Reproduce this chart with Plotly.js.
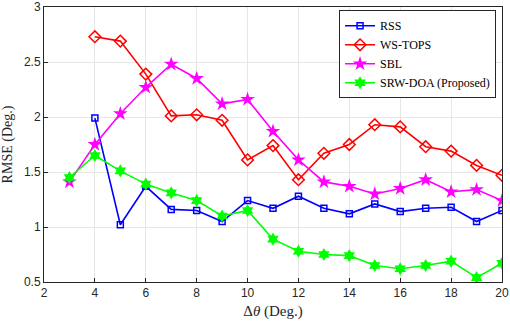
<!DOCTYPE html>
<html><head><meta charset="utf-8">
<script src="https://cdn.plot.ly/plotly-3.0.1.min.js"></script>
<style>html,body{margin:0;padding:0;background:#fff}#c{width:510px;height:326px}</style>
</head><body><div id="c"></div>
<script>
const xRSS = [4,5,6,7,8,9,10,11,12,13,14,15,16,17,18,19,20];
const yRSS = [1.99,1.02,1.37,1.16,1.15,1.05,1.24,1.17,1.28,1.17,1.12,1.21,1.14,1.17,1.18,1.05,1.15];
const xWS = [4,5,6,7,8,9,10,11,12,13,14,15,16,17,18,19,20];
const yWS = [2.73,2.69,2.39,2.01,2.02,1.97,1.61,1.74,1.43,1.67,1.75,1.93,1.91,1.73,1.69,1.56,1.47];
const xSBL = [3,4,5,6,7,8,9,10,11,12,13,14,15,16,17,18,19,20];
const ySBL = [1.41,1.75,2.03,2.27,2.48,2.35,2.12,2.16,1.87,1.61,1.41,1.37,1.30,1.35,1.43,1.32,1.34,1.24];
const xSRW = [3,4,5,6,7,8,9,10,11,12,13,14,15,16,17,18,19,20];
const ySRW = [1.45,1.65,1.51,1.39,1.31,1.24,1.10,1.15,0.89,0.78,0.75,0.74,0.65,0.62,0.65,0.69,0.54,0.67];
const xTicks = [2,4,6,8,10,12,14,16,18,20];
const yTicks = [0.5,1,1.5,2,2.5,3];

const traces = [
 {x:xRSS,y:yRSS,name:'RSS',mode:'lines+markers',line:{color:'#0000ff',width:1.6},
  marker:{symbol:'square-open',size:6,color:'#0000ff',line:{width:1.5}}},
 {x:xWS,y:yWS,name:'WS-TOPS',mode:'lines+markers',line:{color:'#ff0000',width:1.6},
  marker:{symbol:'diamond-open',size:9,color:'#ff0000',line:{width:1.5}}},
 {x:xSBL,y:ySBL,name:'SBL',mode:'lines+markers',line:{color:'#ff00ff',width:1.6},
  marker:{symbol:'star',size:11,color:'#ff00ff',line:{width:0}}},
 {x:xSRW,y:ySRW,name:'SRW-DOA (Proposed)',mode:'lines+markers',line:{color:'#00ff00',width:1.6},
  marker:{symbol:'hexagram',size:10,color:'#00ff00',line:{width:0}}}
];
const axisCommon = {showline:true,mirror:true,linecolor:'#262626',linewidth:1,ticks:'inside',ticklen:4,
  tickcolor:'#262626',showgrid:true,gridcolor:'#e6e6e6',gridwidth:1,zeroline:false,
  tickfont:{family:'Liberation Sans, Arial, sans-serif',size:12,color:'#262626'}};
const layout = {
 width:510,height:326,margin:{l:43.5,r:7.5,t:6.5,b:44},
 paper_bgcolor:'#fff',plot_bgcolor:'#fff',
 xaxis:Object.assign({},axisCommon,{range:[2,20],tickvals:xTicks,ticktext:xTicks.map(String),
   title:{text:'Δ<i>θ</i> (Deg.)',standoff:6,font:{family:'Liberation Serif, Times New Roman, serif',size:15,color:'#262626'}}}),
 yaxis:Object.assign({},axisCommon,{range:[0.5,3],tickvals:yTicks,ticktext:yTicks.map(String),
   title:{text:'RMSE (Deg.)',standoff:8,font:{family:'Liberation Serif, Times New Roman, serif',size:14,color:'#262626'}}}),
 legend:{x:0.987,xanchor:'right',y:0.988,yanchor:'top',bgcolor:'#fff',bordercolor:'#262626',borderwidth:1,
   font:{family:'Liberation Serif, Times New Roman, serif',size:12,color:'#000'},
   tracegroupgap:0,itemwidth:30},
 showlegend:true
};
Plotly.newPlot('c',traces,layout,{displayModeBar:false,staticPlot:true});
</script></body></html>
